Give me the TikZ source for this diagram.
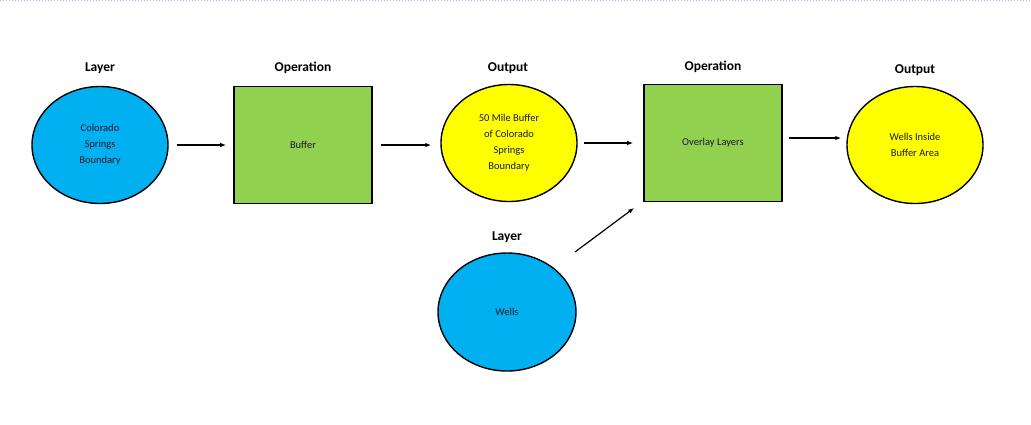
\documentclass[tikz,border=0pt]{standalone}
\usepackage{fontspec}
\setmainfont{Carlito}
\usetikzlibrary{arrows.meta,shapes.geometric}
\definecolor{lblue}{HTML}{00B0F0}
\definecolor{lgreen}{HTML}{92D050}
\definecolor{lyellow}{HTML}{FFFF00}
\definecolor{dotblue}{HTML}{9DC3E6}
\definecolor{txt}{HTML}{1A1A2A}
\tikzset{
  ell/.style={ellipse, draw=black, line width=1.4pt, minimum width=136pt, minimum height=117pt, inner sep=0pt, align=center, text=txt, font=\fontsize{10.5}{16}\selectfont},
  opbox/.style={rectangle, draw=black, line width=1.6pt, fill=lgreen, minimum width=138pt, minimum height=117pt, inner sep=0pt, align=center, text=txt, font=\fontsize{10.5}{16}\selectfont},
  hdr/.style={font=\fontsize{13.5}{15}\selectfont\bfseries},
  arr/.style={line width=1.2pt, -{Latex[length=6pt,width=4.5pt]}},
}
\begin{document}
\begin{tikzpicture}[x=1pt,y=1pt]
\useasboundingbox (0,0) rectangle (1031,-424);
\fill[white] (0,0) rectangle (1031,-424);
\draw[dotblue, line width=1pt, dotted] (0,-0.8) -- (1031,-0.8);

\node[hdr] (h1) at (100,-68) {Layer};
\node[hdr] (h2) at (303,-68) {Operation};
\node[hdr] (h3) at (508,-68) {Output};
\node[hdr] (h4) at (713,-67) {Operation};
\node[hdr] (h5) at (915,-70) {Output};
\node[hdr] (h6) at (507,-237) {Layer};

\node[ell, fill=lblue] (e1) at (100,-145) {Colorado\\Springs\\Boundary};
\node[opbox] (buf) at (303,-145) {Buffer};
\node[ell, fill=lyellow] (e2) at (509,-143) {50 Mile Buffer\\of Colorado\\Springs\\Boundary};
\node[opbox] (ov) at (713,-143) {Overlay Layers};
\node[ell, fill=lyellow] (e3) at (915,-145) {Wells Inside\\Buffer Area};
\node[ell, fill=lblue, minimum width=138pt, minimum height=118pt] (wells) at (507,-312) {Wells};

\draw[arr] ([xshift=8pt]e1.east) -- ([xshift=-7pt]buf.west);
\draw[arr] ([xshift=8pt]buf.east) -- ([shift={(-9,-2)}]e2.west);
\draw[arr] ([xshift=6pt]e2.east) -- ([xshift=-10pt]ov.west);
\draw[arr] ([shift={(6,5)}]ov.east) -- ([shift={(-5,7)}]e3.west);
\draw[arr] ([shift={(68,60)}]wells.center) -- ([shift={(-9,-5.6)}]ov.south west);
\end{tikzpicture}
\end{document}
